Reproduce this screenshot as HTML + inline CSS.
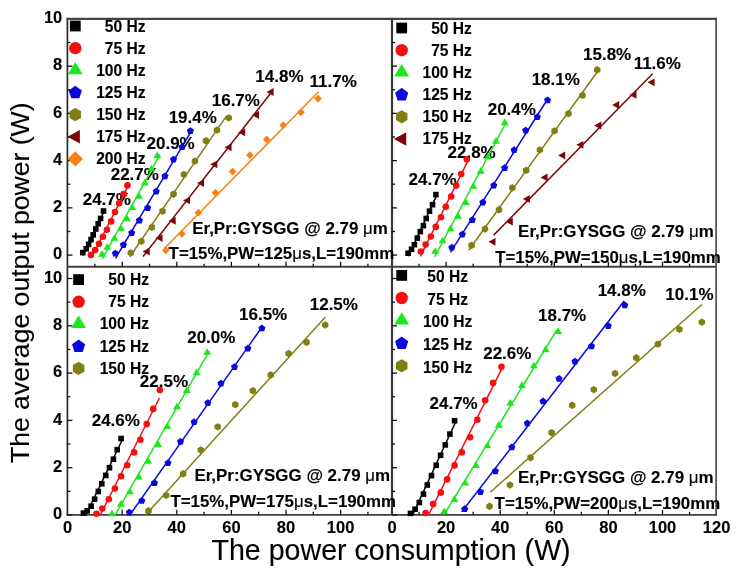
<!DOCTYPE html><html><head><meta charset="utf-8"><style>html,body{margin:0;padding:0;background:#fff;overflow:hidden}svg{display:block;will-change:transform}text{font-family:"Liberation Sans",sans-serif;stroke:#000;stroke-width:0.12px}</style></head><body>
<svg width="742" height="572" viewBox="0 0 742 572">
<rect width="742" height="572" fill="#fff"/>
<g stroke="#383838" fill="none">
<line x1="67.4" y1="17.85" x2="67.4" y2="515.85" stroke-width="1.7" stroke="#2a2a2a"/>
<line x1="716.1" y1="17.85" x2="716.1" y2="515.85" stroke-width="1.6" stroke="#444"/>
<line x1="66.60000000000001" y1="18.85" x2="717.0" y2="18.85" stroke-width="2.1" stroke="#444"/>
<line x1="66.60000000000001" y1="514.85" x2="717.0" y2="514.85" stroke-width="1.9" stroke="#404040"/>
<line x1="392.0" y1="18.85" x2="392.0" y2="514.85" stroke-width="2.2"/>
<line x1="67.4" y1="266.75" x2="716.1" y2="266.75" stroke-width="1.9" stroke="#404040"/>
</g>
<g stroke="#111" stroke-width="1.3" fill="none">
<line x1="94.90" y1="266.75" x2="94.90" y2="263.75"/>
<line x1="122.20" y1="266.75" x2="122.20" y2="261.75"/>
<line x1="149.50" y1="266.75" x2="149.50" y2="263.75"/>
<line x1="176.80" y1="266.75" x2="176.80" y2="261.75"/>
<line x1="204.10" y1="266.75" x2="204.10" y2="263.75"/>
<line x1="231.40" y1="266.75" x2="231.40" y2="261.75"/>
<line x1="258.70" y1="266.75" x2="258.70" y2="263.75"/>
<line x1="286.00" y1="266.75" x2="286.00" y2="261.75"/>
<line x1="313.30" y1="266.75" x2="313.30" y2="263.75"/>
<line x1="340.60" y1="266.75" x2="340.60" y2="261.75"/>
<line x1="367.90" y1="266.75" x2="367.90" y2="263.75"/>
<line x1="419.05" y1="266.75" x2="419.05" y2="263.75"/>
<line x1="446.10" y1="266.75" x2="446.10" y2="261.75"/>
<line x1="473.15" y1="266.75" x2="473.15" y2="263.75"/>
<line x1="500.20" y1="266.75" x2="500.20" y2="261.75"/>
<line x1="527.25" y1="266.75" x2="527.25" y2="263.75"/>
<line x1="554.30" y1="266.75" x2="554.30" y2="261.75"/>
<line x1="581.35" y1="266.75" x2="581.35" y2="263.75"/>
<line x1="608.40" y1="266.75" x2="608.40" y2="261.75"/>
<line x1="635.45" y1="266.75" x2="635.45" y2="263.75"/>
<line x1="662.50" y1="266.75" x2="662.50" y2="261.75"/>
<line x1="689.55" y1="266.75" x2="689.55" y2="263.75"/>
<line x1="94.90" y1="514.85" x2="94.90" y2="511.85"/>
<line x1="122.20" y1="514.85" x2="122.20" y2="509.85"/>
<line x1="149.50" y1="514.85" x2="149.50" y2="511.85"/>
<line x1="176.80" y1="514.85" x2="176.80" y2="509.85"/>
<line x1="204.10" y1="514.85" x2="204.10" y2="511.85"/>
<line x1="231.40" y1="514.85" x2="231.40" y2="509.85"/>
<line x1="258.70" y1="514.85" x2="258.70" y2="511.85"/>
<line x1="286.00" y1="514.85" x2="286.00" y2="509.85"/>
<line x1="313.30" y1="514.85" x2="313.30" y2="511.85"/>
<line x1="340.60" y1="514.85" x2="340.60" y2="509.85"/>
<line x1="367.90" y1="514.85" x2="367.90" y2="511.85"/>
<line x1="419.05" y1="514.85" x2="419.05" y2="511.85"/>
<line x1="446.10" y1="514.85" x2="446.10" y2="509.85"/>
<line x1="473.15" y1="514.85" x2="473.15" y2="511.85"/>
<line x1="500.20" y1="514.85" x2="500.20" y2="509.85"/>
<line x1="527.25" y1="514.85" x2="527.25" y2="511.85"/>
<line x1="554.30" y1="514.85" x2="554.30" y2="509.85"/>
<line x1="581.35" y1="514.85" x2="581.35" y2="511.85"/>
<line x1="608.40" y1="514.85" x2="608.40" y2="509.85"/>
<line x1="635.45" y1="514.85" x2="635.45" y2="511.85"/>
<line x1="662.50" y1="514.85" x2="662.50" y2="509.85"/>
<line x1="689.55" y1="514.85" x2="689.55" y2="511.85"/>
<line x1="67.4" y1="255.10" x2="72.4" y2="255.10"/>
<line x1="67.4" y1="231.48" x2="70.4" y2="231.48"/>
<line x1="67.4" y1="207.86" x2="72.4" y2="207.86"/>
<line x1="67.4" y1="184.24" x2="70.4" y2="184.24"/>
<line x1="67.4" y1="160.62" x2="72.4" y2="160.62"/>
<line x1="67.4" y1="137.00" x2="70.4" y2="137.00"/>
<line x1="67.4" y1="113.38" x2="72.4" y2="113.38"/>
<line x1="67.4" y1="89.76" x2="70.4" y2="89.76"/>
<line x1="67.4" y1="66.14" x2="72.4" y2="66.14"/>
<line x1="67.4" y1="42.52" x2="70.4" y2="42.52"/>
<line x1="392.0" y1="255.10" x2="397.0" y2="255.10"/>
<line x1="392.0" y1="231.48" x2="395.0" y2="231.48"/>
<line x1="392.0" y1="207.86" x2="397.0" y2="207.86"/>
<line x1="392.0" y1="184.24" x2="395.0" y2="184.24"/>
<line x1="392.0" y1="160.62" x2="397.0" y2="160.62"/>
<line x1="392.0" y1="137.00" x2="395.0" y2="137.00"/>
<line x1="392.0" y1="113.38" x2="397.0" y2="113.38"/>
<line x1="392.0" y1="89.76" x2="395.0" y2="89.76"/>
<line x1="392.0" y1="66.14" x2="397.0" y2="66.14"/>
<line x1="392.0" y1="42.52" x2="395.0" y2="42.52"/>
<line x1="67.4" y1="515.00" x2="72.4" y2="515.00"/>
<line x1="67.4" y1="491.35" x2="70.4" y2="491.35"/>
<line x1="67.4" y1="467.70" x2="72.4" y2="467.70"/>
<line x1="67.4" y1="444.05" x2="70.4" y2="444.05"/>
<line x1="67.4" y1="420.40" x2="72.4" y2="420.40"/>
<line x1="67.4" y1="396.75" x2="70.4" y2="396.75"/>
<line x1="67.4" y1="373.10" x2="72.4" y2="373.10"/>
<line x1="67.4" y1="349.45" x2="70.4" y2="349.45"/>
<line x1="67.4" y1="325.80" x2="72.4" y2="325.80"/>
<line x1="67.4" y1="302.15" x2="70.4" y2="302.15"/>
<line x1="67.4" y1="278.50" x2="72.4" y2="278.50"/>
<line x1="392.0" y1="515.00" x2="397.0" y2="515.00"/>
<line x1="392.0" y1="491.35" x2="395.0" y2="491.35"/>
<line x1="392.0" y1="467.70" x2="397.0" y2="467.70"/>
<line x1="392.0" y1="444.05" x2="395.0" y2="444.05"/>
<line x1="392.0" y1="420.40" x2="397.0" y2="420.40"/>
<line x1="392.0" y1="396.75" x2="395.0" y2="396.75"/>
<line x1="392.0" y1="373.10" x2="397.0" y2="373.10"/>
<line x1="392.0" y1="349.45" x2="395.0" y2="349.45"/>
<line x1="392.0" y1="325.80" x2="397.0" y2="325.80"/>
<line x1="392.0" y1="302.15" x2="395.0" y2="302.15"/>
<line x1="392.0" y1="278.50" x2="397.0" y2="278.50"/>
</g>
<rect x="69.90" y="20.60" width="10.80" height="10.80" fill="#000000"/>
<text x="145.60" y="32.00" font-size="15.6" font-weight="bold" text-anchor="end" fill="#000" >50 Hz</text>
<circle cx="75.30" cy="48.15" r="6.20" fill="#f51010"/>
<text x="145.60" y="54.00" font-size="15.6" font-weight="bold" text-anchor="end" fill="#000" >75 Hz</text>
<polygon points="75.30,61.90 82.75,74.32 67.85,74.32" fill="#1ee61e"/>
<text x="145.60" y="76.00" font-size="15.6" font-weight="bold" text-anchor="end" fill="#000" >100 Hz</text>
<polygon points="75.30,85.72 81.89,90.51 79.37,98.26 71.23,98.26 68.71,90.51" fill="#0808dc"/>
<text x="145.60" y="98.00" font-size="15.6" font-weight="bold" text-anchor="end" fill="#000" >125 Hz</text>
<polygon points="75.30,107.97 81.04,111.28 81.04,117.91 75.30,121.23 69.56,117.91 69.56,111.28" fill="#7f7f12"/>
<text x="145.60" y="120.00" font-size="15.6" font-weight="bold" text-anchor="end" fill="#000" >150 Hz</text>
<polygon points="67.50,136.75 79.85,129.93 79.85,143.57" fill="#7c0606"/>
<text x="145.60" y="142.00" font-size="15.6" font-weight="bold" text-anchor="end" fill="#000" >175 Hz</text>
<polygon points="75.30,151.23 82.97,158.90 75.30,166.56 67.63,158.90" fill="#fa8012"/>
<text x="145.60" y="164.00" font-size="15.6" font-weight="bold" text-anchor="end" fill="#000" >200 Hz</text>
<rect x="396.30" y="22.60" width="10.80" height="10.80" fill="#000000"/>
<text x="471.90" y="34.00" font-size="15.6" font-weight="bold" text-anchor="end" fill="#000" >50 Hz</text>
<circle cx="401.70" cy="50.20" r="6.20" fill="#f51010"/>
<text x="471.90" y="56.00" font-size="15.6" font-weight="bold" text-anchor="end" fill="#000" >75 Hz</text>
<polygon points="401.70,64.00 409.15,76.42 394.25,76.42" fill="#1ee61e"/>
<text x="471.90" y="78.00" font-size="15.6" font-weight="bold" text-anchor="end" fill="#000" >100 Hz</text>
<polygon points="401.70,87.87 408.29,92.66 405.77,100.41 397.63,100.41 395.11,92.66" fill="#0808dc"/>
<text x="471.90" y="100.00" font-size="15.6" font-weight="bold" text-anchor="end" fill="#000" >125 Hz</text>
<polygon points="401.70,110.17 407.44,113.48 407.44,120.11 401.70,123.43 395.96,120.11 395.96,113.48" fill="#7f7f12"/>
<text x="471.90" y="122.00" font-size="15.6" font-weight="bold" text-anchor="end" fill="#000" >150 Hz</text>
<polygon points="393.90,139.00 406.25,132.18 406.25,145.82" fill="#7c0606"/>
<text x="471.90" y="144.00" font-size="15.6" font-weight="bold" text-anchor="end" fill="#000" >175 Hz</text>
<rect x="73.20" y="274.20" width="10.80" height="10.80" fill="#000000"/>
<text x="149.10" y="285.00" font-size="15.6" font-weight="bold" text-anchor="end" fill="#000" >50 Hz</text>
<circle cx="78.60" cy="301.80" r="6.20" fill="#f51010"/>
<text x="149.10" y="307.00" font-size="15.6" font-weight="bold" text-anchor="end" fill="#000" >75 Hz</text>
<polygon points="78.60,315.60 86.05,328.02 71.15,328.02" fill="#1ee61e"/>
<text x="149.10" y="329.00" font-size="15.6" font-weight="bold" text-anchor="end" fill="#000" >100 Hz</text>
<polygon points="78.60,339.47 85.19,344.26 82.67,352.01 74.53,352.01 72.01,344.26" fill="#0808dc"/>
<text x="149.10" y="352.00" font-size="15.6" font-weight="bold" text-anchor="end" fill="#000" >125 Hz</text>
<polygon points="78.60,361.77 84.34,365.09 84.34,371.72 78.60,375.03 72.86,371.72 72.86,365.09" fill="#7f7f12"/>
<text x="149.10" y="374.00" font-size="15.6" font-weight="bold" text-anchor="end" fill="#000" >150 Hz</text>
<rect x="396.30" y="270.00" width="10.80" height="10.80" fill="#000000"/>
<text x="447.60" y="282.00" font-size="15.6" font-weight="bold" text-anchor="middle" fill="#000" >50 Hz</text>
<circle cx="401.70" cy="298.00" r="6.20" fill="#f51010"/>
<text x="447.60" y="305.00" font-size="15.6" font-weight="bold" text-anchor="middle" fill="#000" >75 Hz</text>
<polygon points="401.70,312.20 409.15,324.62 394.25,324.62" fill="#1ee61e"/>
<text x="447.60" y="327.00" font-size="15.6" font-weight="bold" text-anchor="middle" fill="#000" >100 Hz</text>
<polygon points="401.70,336.47 408.29,341.26 405.77,349.01 397.63,349.01 395.11,341.26" fill="#0808dc"/>
<text x="447.60" y="350.00" font-size="15.6" font-weight="bold" text-anchor="middle" fill="#000" >125 Hz</text>
<polygon points="401.70,359.17 407.44,362.48 407.44,369.11 401.70,372.43 395.96,369.11 395.96,362.48" fill="#7f7f12"/>
<text x="447.60" y="373.00" font-size="15.6" font-weight="bold" text-anchor="middle" fill="#000" >150 Hz</text>
<text x="82.71" y="205.00" font-size="17" font-weight="bold" text-anchor="start" fill="#000" >24.7%</text>
<text x="110.71" y="180.00" font-size="17" font-weight="bold" text-anchor="start" fill="#000" >22.7%</text>
<text x="146.51" y="149.00" font-size="17" font-weight="bold" text-anchor="start" fill="#000" >20.9%</text>
<text x="168.63" y="123.00" font-size="17" font-weight="bold" text-anchor="start" fill="#000" >19.4%</text>
<text x="211.73" y="106.00" font-size="17" font-weight="bold" text-anchor="start" fill="#000" >16.7%</text>
<text x="255.33" y="82.00" font-size="17" font-weight="bold" text-anchor="start" fill="#000" >14.8%</text>
<text x="309.53" y="87.00" font-size="17" font-weight="bold" text-anchor="start" fill="#000" >11.7%</text>
<text x="408.51" y="185.00" font-size="17" font-weight="bold" text-anchor="start" fill="#000" >24.7%</text>
<text x="447.51" y="158.00" font-size="17" font-weight="bold" text-anchor="start" fill="#000" >22.8%</text>
<text x="487.71" y="115.00" font-size="17" font-weight="bold" text-anchor="start" fill="#000" >20.4%</text>
<text x="531.63" y="85.00" font-size="17" font-weight="bold" text-anchor="start" fill="#000" >18.1%</text>
<text x="583.03" y="60.00" font-size="17" font-weight="bold" text-anchor="start" fill="#000" >15.8%</text>
<text x="633.63" y="69.00" font-size="17" font-weight="bold" text-anchor="start" fill="#000" >11.6%</text>
<text x="91.71" y="426.00" font-size="17" font-weight="bold" text-anchor="start" fill="#000" >24.6%</text>
<text x="139.81" y="387.00" font-size="17" font-weight="bold" text-anchor="start" fill="#000" >22.5%</text>
<text x="187.21" y="343.00" font-size="17" font-weight="bold" text-anchor="start" fill="#000" >20.0%</text>
<text x="239.03" y="320.00" font-size="17" font-weight="bold" text-anchor="start" fill="#000" >16.5%</text>
<text x="309.73" y="310.00" font-size="17" font-weight="bold" text-anchor="start" fill="#000" >12.5%</text>
<text x="429.51" y="409.00" font-size="17" font-weight="bold" text-anchor="start" fill="#000" >24.7%</text>
<text x="483.21" y="359.00" font-size="17" font-weight="bold" text-anchor="start" fill="#000" >22.6%</text>
<text x="538.03" y="321.00" font-size="17" font-weight="bold" text-anchor="start" fill="#000" >18.7%</text>
<text x="597.63" y="296.00" font-size="17" font-weight="bold" text-anchor="start" fill="#000" >14.8%</text>
<text x="665.33" y="300.00" font-size="17" font-weight="bold" text-anchor="start" fill="#000" >10.1%</text>
<line x1="82.72" y1="255.60" x2="104.71" y2="210.00" stroke="#000000" stroke-width="1.5"/>
<rect x="80.00" y="249.80" width="5.60" height="5.60" fill="#000000"/>
<rect x="83.40" y="246.00" width="5.60" height="5.60" fill="#000000"/>
<rect x="85.80" y="241.60" width="5.60" height="5.60" fill="#000000"/>
<rect x="88.20" y="236.80" width="5.60" height="5.60" fill="#000000"/>
<rect x="90.40" y="232.00" width="5.60" height="5.60" fill="#000000"/>
<rect x="93.00" y="226.20" width="5.60" height="5.60" fill="#000000"/>
<rect x="95.40" y="221.00" width="5.60" height="5.60" fill="#000000"/>
<rect x="97.80" y="215.70" width="5.60" height="5.60" fill="#000000"/>
<rect x="100.70" y="208.20" width="5.60" height="5.60" fill="#000000"/>
<line x1="91.34" y1="257.90" x2="128.92" y2="184.40" stroke="#f51010" stroke-width="1.5"/>
<circle cx="90.90" cy="254.90" r="3.30" fill="#f51010"/>
<circle cx="95.10" cy="250.10" r="3.30" fill="#f51010"/>
<circle cx="99.00" cy="243.80" r="3.30" fill="#f51010"/>
<circle cx="102.80" cy="236.70" r="3.30" fill="#f51010"/>
<circle cx="106.90" cy="229.80" r="3.30" fill="#f51010"/>
<circle cx="111.20" cy="221.40" r="3.30" fill="#f51010"/>
<circle cx="115.00" cy="212.00" r="3.30" fill="#f51010"/>
<circle cx="119.10" cy="203.20" r="3.30" fill="#f51010"/>
<circle cx="123.70" cy="194.00" r="3.30" fill="#f51010"/>
<circle cx="127.50" cy="185.40" r="3.30" fill="#f51010"/>
<line x1="102.34" y1="258.70" x2="160.13" y2="154.30" stroke="#1ee61e" stroke-width="1.5"/>
<polygon points="102.10,250.00 106.10,256.66 98.10,256.66" fill="#1ee61e"/>
<polygon points="107.30,243.20 111.30,249.86 103.30,249.86" fill="#1ee61e"/>
<polygon points="114.40,234.20 118.40,240.86 110.40,240.86" fill="#1ee61e"/>
<polygon points="120.90,224.40 124.90,231.06 116.90,231.06" fill="#1ee61e"/>
<polygon points="126.90,214.60 130.90,221.26 122.90,221.26" fill="#1ee61e"/>
<polygon points="132.30,203.40 136.30,210.06 128.30,210.06" fill="#1ee61e"/>
<polygon points="138.90,192.10 142.90,198.76 134.90,198.76" fill="#1ee61e"/>
<polygon points="144.80,178.80 148.80,185.46 140.80,185.46" fill="#1ee61e"/>
<polygon points="151.40,164.70 155.40,171.36 147.40,171.36" fill="#1ee61e"/>
<polygon points="157.30,151.60 161.30,158.26 153.30,158.26" fill="#1ee61e"/>
<line x1="115.48" y1="258.30" x2="192.19" y2="129.70" stroke="#0808dc" stroke-width="1.5"/>
<polygon points="115.40,249.77 118.95,252.35 117.59,256.52 113.21,256.52 111.85,252.35" fill="#0808dc"/>
<polygon points="123.40,241.17 126.95,243.75 125.59,247.92 121.21,247.92 119.85,243.75" fill="#0808dc"/>
<polygon points="131.70,229.17 135.25,231.75 133.89,235.92 129.51,235.92 128.15,231.75" fill="#0808dc"/>
<polygon points="139.40,216.67 142.95,219.25 141.59,223.42 137.21,223.42 135.85,219.25" fill="#0808dc"/>
<polygon points="147.70,204.17 151.25,206.75 149.89,210.92 145.51,210.92 144.15,206.75" fill="#0808dc"/>
<polygon points="156.20,187.77 159.75,190.35 158.39,194.52 154.01,194.52 152.65,190.35" fill="#0808dc"/>
<polygon points="165.00,172.47 168.55,175.05 167.19,179.22 162.81,179.22 161.45,175.05" fill="#0808dc"/>
<polygon points="173.50,155.67 177.05,158.25 175.69,162.42 171.31,162.42 169.95,158.25" fill="#0808dc"/>
<polygon points="182.10,143.37 185.65,145.95 184.29,150.12 179.91,150.12 178.55,145.95" fill="#0808dc"/>
<polygon points="190.40,127.17 193.95,129.75 192.59,133.92 188.21,133.92 186.85,129.75" fill="#0808dc"/>
<line x1="129.77" y1="256.90" x2="225.90" y2="116.90" stroke="#7f7f12" stroke-width="1.5"/>
<polygon points="130.80,249.18 134.02,251.04 134.02,254.76 130.80,256.62 127.58,254.76 127.58,251.04" fill="#7f7f12"/>
<polygon points="141.30,237.58 144.52,239.44 144.52,243.16 141.30,245.02 138.08,243.16 138.08,239.44" fill="#7f7f12"/>
<polygon points="151.90,223.58 155.12,225.44 155.12,229.16 151.90,231.02 148.68,229.16 148.68,225.44" fill="#7f7f12"/>
<polygon points="162.50,207.48 165.72,209.34 165.72,213.06 162.50,214.92 159.28,213.06 159.28,209.34" fill="#7f7f12"/>
<polygon points="173.50,190.48 176.72,192.34 176.72,196.06 173.50,197.92 170.28,196.06 170.28,192.34" fill="#7f7f12"/>
<polygon points="183.90,170.78 187.12,172.64 187.12,176.36 183.90,178.22 180.68,176.36 180.68,172.64" fill="#7f7f12"/>
<polygon points="194.90,157.38 198.12,159.24 198.12,162.96 194.90,164.82 191.68,162.96 191.68,159.24" fill="#7f7f12"/>
<polygon points="206.00,137.08 209.22,138.94 209.22,142.66 206.00,144.52 202.78,142.66 202.78,138.94" fill="#7f7f12"/>
<polygon points="217.00,126.38 220.22,128.24 220.22,131.96 217.00,133.82 213.78,131.96 213.78,128.24" fill="#7f7f12"/>
<polygon points="228.70,114.18 231.92,116.04 231.92,119.76 228.70,121.62 225.48,119.76 225.48,116.04" fill="#7f7f12"/>
<line x1="143.00" y1="256.50" x2="273.00" y2="90.30" stroke="#7c0606" stroke-width="1.5"/>
<polygon points="142.66,251.50 149.69,247.62 149.69,255.38" fill="#7c0606"/>
<polygon points="155.56,238.10 162.59,234.22 162.59,241.98" fill="#7c0606"/>
<polygon points="168.66,220.80 175.69,216.92 175.69,224.69" fill="#7c0606"/>
<polygon points="183.06,200.40 190.09,196.52 190.09,204.28" fill="#7c0606"/>
<polygon points="197.06,183.10 204.09,179.22 204.09,186.98" fill="#7c0606"/>
<polygon points="210.26,164.30 217.29,160.42 217.29,168.19" fill="#7c0606"/>
<polygon points="224.56,147.30 231.59,143.42 231.59,151.19" fill="#7c0606"/>
<polygon points="238.16,132.40 245.19,128.52 245.19,136.28" fill="#7c0606"/>
<polygon points="251.96,115.00 258.99,111.11 258.99,118.89" fill="#7c0606"/>
<polygon points="266.56,92.00 273.59,88.11 273.59,95.89" fill="#7c0606"/>
<line x1="164.30" y1="248.50" x2="318.60" y2="91.80" stroke="#fa8012" stroke-width="1.5"/>
<polygon points="165.80,246.47 169.63,250.30 165.80,254.13 161.97,250.30" fill="#fa8012"/>
<polygon points="181.90,229.97 185.73,233.80 181.90,237.63 178.07,233.80" fill="#fa8012"/>
<polygon points="198.40,208.87 202.23,212.70 198.40,216.53 194.57,212.70" fill="#fa8012"/>
<polygon points="215.50,188.87 219.33,192.70 215.50,196.53 211.67,192.70" fill="#fa8012"/>
<polygon points="232.50,167.67 236.33,171.50 232.50,175.33 228.67,171.50" fill="#fa8012"/>
<polygon points="249.90,151.37 253.73,155.20 249.90,159.03 246.07,155.20" fill="#fa8012"/>
<polygon points="266.70,135.57 270.53,139.40 266.70,143.23 262.87,139.40" fill="#fa8012"/>
<polygon points="283.20,121.37 287.03,125.20 283.20,129.03 279.37,125.20" fill="#fa8012"/>
<polygon points="300.90,108.47 304.73,112.30 300.90,116.13 297.07,112.30" fill="#fa8012"/>
<polygon points="318.00,94.77 321.83,98.60 318.00,102.43 314.17,98.60" fill="#fa8012"/>
<line x1="408.40" y1="256.20" x2="437.52" y2="193.60" stroke="#000000" stroke-width="1.5"/>
<rect x="405.30" y="250.40" width="5.60" height="5.60" fill="#000000"/>
<rect x="408.70" y="246.50" width="5.60" height="5.60" fill="#000000"/>
<rect x="411.60" y="241.90" width="5.60" height="5.60" fill="#000000"/>
<rect x="414.50" y="235.30" width="5.60" height="5.60" fill="#000000"/>
<rect x="417.50" y="228.80" width="5.60" height="5.60" fill="#000000"/>
<rect x="420.60" y="222.90" width="5.60" height="5.60" fill="#000000"/>
<rect x="423.40" y="215.70" width="5.60" height="5.60" fill="#000000"/>
<rect x="426.70" y="208.40" width="5.60" height="5.60" fill="#000000"/>
<rect x="429.70" y="201.90" width="5.60" height="5.60" fill="#000000"/>
<rect x="433.10" y="191.80" width="5.60" height="5.60" fill="#000000"/>
<line x1="420.34" y1="256.50" x2="469.24" y2="158.20" stroke="#f51010" stroke-width="1.5"/>
<circle cx="420.80" cy="251.50" r="3.30" fill="#f51010"/>
<circle cx="425.60" cy="244.60" r="3.30" fill="#f51010"/>
<circle cx="430.80" cy="236.50" r="3.30" fill="#f51010"/>
<circle cx="435.80" cy="226.90" r="3.30" fill="#f51010"/>
<circle cx="441.00" cy="217.30" r="3.30" fill="#f51010"/>
<circle cx="445.80" cy="206.70" r="3.30" fill="#f51010"/>
<circle cx="451.20" cy="196.50" r="3.30" fill="#f51010"/>
<circle cx="456.30" cy="185.60" r="3.30" fill="#f51010"/>
<circle cx="461.20" cy="174.00" r="3.30" fill="#f51010"/>
<circle cx="466.80" cy="159.20" r="3.30" fill="#f51010"/>
<line x1="434.66" y1="256.90" x2="506.74" y2="121.30" stroke="#1ee61e" stroke-width="1.5"/>
<polygon points="435.20,247.20 439.20,253.86 431.20,253.86" fill="#1ee61e"/>
<polygon points="442.60,236.70 446.60,243.36 438.60,243.36" fill="#1ee61e"/>
<polygon points="450.60,224.50 454.60,231.16 446.60,231.16" fill="#1ee61e"/>
<polygon points="458.00,212.20 462.00,218.86 454.00,218.86" fill="#1ee61e"/>
<polygon points="465.80,198.30 469.80,204.96 461.80,204.96" fill="#1ee61e"/>
<polygon points="473.30,182.20 477.30,188.86 469.30,188.86" fill="#1ee61e"/>
<polygon points="480.70,167.10 484.70,173.76 476.70,173.76" fill="#1ee61e"/>
<polygon points="488.10,152.70 492.10,159.36 484.10,159.36" fill="#1ee61e"/>
<polygon points="496.00,137.00 500.00,143.66 492.00,143.66" fill="#1ee61e"/>
<polygon points="504.70,118.60 508.70,125.26 500.70,125.26" fill="#1ee61e"/>
<line x1="450.42" y1="252.40" x2="547.63" y2="99.00" stroke="#0808dc" stroke-width="1.5"/>
<polygon points="451.80,243.87 455.35,246.45 453.99,250.62 449.61,250.62 448.25,246.45" fill="#0808dc"/>
<polygon points="462.30,230.77 465.85,233.35 464.49,237.52 460.11,237.52 458.75,233.35" fill="#0808dc"/>
<polygon points="472.30,216.27 475.85,218.85 474.49,223.02 470.11,223.02 468.75,218.85" fill="#0808dc"/>
<polygon points="482.80,198.77 486.35,201.35 484.99,205.52 480.61,205.52 479.25,201.35" fill="#0808dc"/>
<polygon points="493.80,181.77 497.35,184.35 495.99,188.52 491.61,188.52 490.25,184.35" fill="#0808dc"/>
<polygon points="504.60,164.17 508.15,166.75 506.79,170.92 502.41,170.92 501.05,166.75" fill="#0808dc"/>
<polygon points="514.10,146.37 517.65,148.95 516.29,153.12 511.91,153.12 510.55,148.95" fill="#0808dc"/>
<polygon points="525.70,126.67 529.25,129.25 527.89,133.42 523.51,133.42 522.15,129.25" fill="#0808dc"/>
<polygon points="537.30,113.27 540.85,115.85 539.49,120.02 535.11,120.02 533.75,115.85" fill="#0808dc"/>
<polygon points="547.60,96.47 551.15,99.05 549.79,103.22 545.41,103.22 544.05,99.05" fill="#0808dc"/>
<line x1="468.70" y1="250.30" x2="599.57" y2="68.80" stroke="#7f7f12" stroke-width="1.5"/>
<polygon points="471.60,241.58 474.82,243.44 474.82,247.16 471.60,249.02 468.38,247.16 468.38,243.44" fill="#7f7f12"/>
<polygon points="485.00,225.28 488.22,227.14 488.22,230.86 485.00,232.72 481.78,230.86 481.78,227.14" fill="#7f7f12"/>
<polygon points="499.00,206.08 502.22,207.94 502.22,211.66 499.00,213.52 495.78,211.66 495.78,207.94" fill="#7f7f12"/>
<polygon points="512.40,184.08 515.62,185.94 515.62,189.66 512.40,191.52 509.18,189.66 509.18,185.94" fill="#7f7f12"/>
<polygon points="526.20,166.68 529.42,168.54 529.42,172.26 526.20,174.12 522.98,172.26 522.98,168.54" fill="#7f7f12"/>
<polygon points="539.90,146.18 543.12,148.04 543.12,151.76 539.90,153.62 536.68,151.76 536.68,148.04" fill="#7f7f12"/>
<polygon points="554.50,127.18 557.72,129.04 557.72,132.76 554.50,134.62 551.28,132.76 551.28,129.04" fill="#7f7f12"/>
<polygon points="568.50,109.88 571.72,111.74 571.72,115.46 568.50,117.32 565.28,115.46 565.28,111.74" fill="#7f7f12"/>
<polygon points="582.50,91.58 585.72,93.44 585.72,97.16 582.50,99.02 579.28,97.16 579.28,93.44" fill="#7f7f12"/>
<polygon points="597.20,66.08 600.42,67.94 600.42,71.66 597.20,73.52 593.98,71.66 593.98,67.94" fill="#7f7f12"/>
<line x1="493.70" y1="235.10" x2="652.60" y2="73.70" stroke="#7c0606" stroke-width="1.5"/>
<polygon points="488.46,241.80 495.49,237.92 495.49,245.69" fill="#7c0606"/>
<polygon points="505.76,221.70 512.79,217.81 512.79,225.58" fill="#7c0606"/>
<polygon points="522.86,199.00 529.89,195.12 529.89,202.88" fill="#7c0606"/>
<polygon points="540.56,177.40 547.59,173.52 547.59,181.28" fill="#7c0606"/>
<polygon points="558.16,155.40 565.19,151.52 565.19,159.28" fill="#7c0606"/>
<polygon points="576.36,144.80 583.39,140.92 583.39,148.69" fill="#7c0606"/>
<polygon points="594.26,125.50 601.29,121.61 601.29,129.38" fill="#7c0606"/>
<polygon points="612.16,105.00 619.19,101.11 619.19,108.89" fill="#7c0606"/>
<polygon points="629.46,94.90 636.49,91.02 636.49,98.79" fill="#7c0606"/>
<polygon points="647.56,82.30 654.59,78.41 654.59,86.19" fill="#7c0606"/>
<line x1="85.78" y1="515.00" x2="123.43" y2="437.50" stroke="#000000" stroke-width="1.5"/>
<rect x="80.60" y="510.30" width="5.60" height="5.60" fill="#000000"/>
<rect x="84.40" y="508.00" width="5.60" height="5.60" fill="#000000"/>
<rect x="88.30" y="503.40" width="5.60" height="5.60" fill="#000000"/>
<rect x="91.80" y="496.40" width="5.60" height="5.60" fill="#000000"/>
<rect x="95.50" y="488.70" width="5.60" height="5.60" fill="#000000"/>
<rect x="99.00" y="481.00" width="5.60" height="5.60" fill="#000000"/>
<rect x="102.90" y="472.60" width="5.60" height="5.60" fill="#000000"/>
<rect x="106.70" y="464.90" width="5.60" height="5.60" fill="#000000"/>
<rect x="110.60" y="456.40" width="5.60" height="5.60" fill="#000000"/>
<rect x="114.40" y="446.90" width="5.60" height="5.60" fill="#000000"/>
<rect x="118.30" y="435.70" width="5.60" height="5.60" fill="#000000"/>
<line x1="100.24" y1="515.00" x2="159.39" y2="398.00" stroke="#f51010" stroke-width="1.5"/>
<circle cx="96.50" cy="513.80" r="3.30" fill="#f51010"/>
<circle cx="102.30" cy="508.50" r="3.30" fill="#f51010"/>
<circle cx="108.80" cy="499.20" r="3.30" fill="#f51010"/>
<circle cx="114.90" cy="488.50" r="3.30" fill="#f51010"/>
<circle cx="121.10" cy="476.30" r="3.30" fill="#f51010"/>
<circle cx="127.20" cy="465.20" r="3.30" fill="#f51010"/>
<circle cx="134.10" cy="452.40" r="3.30" fill="#f51010"/>
<circle cx="140.40" cy="439.80" r="3.30" fill="#f51010"/>
<circle cx="146.70" cy="424.10" r="3.30" fill="#f51010"/>
<circle cx="153.20" cy="408.90" r="3.30" fill="#f51010"/>
<circle cx="159.90" cy="390.00" r="3.30" fill="#f51010"/>
<line x1="115.09" y1="515.00" x2="209.35" y2="350.90" stroke="#1ee61e" stroke-width="1.5"/>
<polygon points="111.90,509.50 115.90,516.16 107.90,516.16" fill="#1ee61e"/>
<polygon points="120.90,500.10 124.90,506.76 116.90,506.76" fill="#1ee61e"/>
<polygon points="129.90,487.50 133.90,494.16 125.90,494.16" fill="#1ee61e"/>
<polygon points="138.70,472.80 142.70,479.46 134.70,479.46" fill="#1ee61e"/>
<polygon points="148.10,457.10 152.10,463.76 144.10,463.76" fill="#1ee61e"/>
<polygon points="158.00,440.30 162.00,446.96 154.00,446.96" fill="#1ee61e"/>
<polygon points="167.20,422.30 171.20,428.96 163.20,428.96" fill="#1ee61e"/>
<polygon points="177.00,402.70 181.00,409.36 173.00,409.36" fill="#1ee61e"/>
<polygon points="186.80,386.30 190.80,392.96 182.80,392.96" fill="#1ee61e"/>
<polygon points="196.60,368.50 200.60,375.16 192.60,375.16" fill="#1ee61e"/>
<polygon points="207.10,348.20 211.10,354.86 203.10,354.86" fill="#1ee61e"/>
<line x1="129.88" y1="515.00" x2="261.89" y2="327.10" stroke="#0808dc" stroke-width="1.5"/>
<polygon points="129.30,508.67 132.85,511.25 131.49,515.42 127.11,515.42 125.75,511.25" fill="#0808dc"/>
<polygon points="141.80,497.07 145.35,499.65 143.99,503.82 139.61,503.82 138.25,499.65" fill="#0808dc"/>
<polygon points="154.40,479.27 157.95,481.85 156.59,486.02 152.21,486.02 150.85,481.85" fill="#0808dc"/>
<polygon points="168.00,459.37 171.55,461.95 170.19,466.12 165.81,466.12 164.45,461.95" fill="#0808dc"/>
<polygon points="180.50,437.97 184.05,440.55 182.69,444.72 178.31,444.72 176.95,440.55" fill="#0808dc"/>
<polygon points="194.10,418.37 197.65,420.95 196.29,425.12 191.91,425.12 190.55,420.95" fill="#0808dc"/>
<polygon points="207.80,399.27 211.35,401.85 209.99,406.02 205.61,406.02 204.25,401.85" fill="#0808dc"/>
<polygon points="221.00,379.67 224.55,382.25 223.19,386.42 218.81,386.42 217.45,382.25" fill="#0808dc"/>
<polygon points="234.50,363.17 238.05,365.75 236.69,369.92 232.31,369.92 230.95,365.75" fill="#0808dc"/>
<polygon points="247.80,344.67 251.35,347.25 249.99,351.42 245.61,351.42 244.25,347.25" fill="#0808dc"/>
<polygon points="261.90,324.57 265.45,327.15 264.09,331.32 259.71,331.32 258.35,327.15" fill="#0808dc"/>
<line x1="145.50" y1="515.00" x2="325.20" y2="317.30" stroke="#7f7f12" stroke-width="1.5"/>
<polygon points="148.50,507.08 151.72,508.94 151.72,512.66 148.50,514.52 145.28,512.66 145.28,508.94" fill="#7f7f12"/>
<polygon points="166.20,491.68 169.42,493.54 169.42,497.26 166.20,499.12 162.98,497.26 162.98,493.54" fill="#7f7f12"/>
<polygon points="183.10,470.08 186.32,471.94 186.32,475.66 183.10,477.52 179.88,475.66 179.88,471.94" fill="#7f7f12"/>
<polygon points="200.80,446.28 204.02,448.14 204.02,451.86 200.80,453.72 197.58,451.86 197.58,448.14" fill="#7f7f12"/>
<polygon points="217.70,423.18 220.92,425.04 220.92,428.76 217.70,430.62 214.48,428.76 214.48,425.04" fill="#7f7f12"/>
<polygon points="235.30,400.88 238.52,402.74 238.52,406.46 235.30,408.32 232.08,406.46 232.08,402.74" fill="#7f7f12"/>
<polygon points="252.90,386.98 256.12,388.84 256.12,392.56 252.90,394.42 249.68,392.56 249.68,388.84" fill="#7f7f12"/>
<polygon points="270.80,371.28 274.02,373.14 274.02,376.86 270.80,378.72 267.58,376.86 267.58,373.14" fill="#7f7f12"/>
<polygon points="288.60,349.78 291.82,351.64 291.82,355.36 288.60,357.22 285.38,355.36 285.38,351.64" fill="#7f7f12"/>
<polygon points="306.50,338.58 309.72,340.44 309.72,344.16 306.50,346.02 303.28,344.16 303.28,340.44" fill="#7f7f12"/>
<polygon points="325.20,321.28 328.42,323.14 328.42,326.86 325.20,328.72 321.98,326.86 321.98,323.14" fill="#7f7f12"/>
<line x1="412.67" y1="515.00" x2="456.62" y2="419.70" stroke="#000000" stroke-width="1.5"/>
<rect x="407.70" y="510.60" width="5.60" height="5.60" fill="#000000"/>
<rect x="412.30" y="506.40" width="5.60" height="5.60" fill="#000000"/>
<rect x="416.50" y="499.70" width="5.60" height="5.60" fill="#000000"/>
<rect x="420.70" y="491.30" width="5.60" height="5.60" fill="#000000"/>
<rect x="424.50" y="482.20" width="5.60" height="5.60" fill="#000000"/>
<rect x="428.70" y="472.80" width="5.60" height="5.60" fill="#000000"/>
<rect x="433.40" y="462.50" width="5.60" height="5.60" fill="#000000"/>
<rect x="437.80" y="452.50" width="5.60" height="5.60" fill="#000000"/>
<rect x="442.50" y="442.10" width="5.60" height="5.60" fill="#000000"/>
<rect x="447.10" y="431.30" width="5.60" height="5.60" fill="#000000"/>
<rect x="451.80" y="417.90" width="5.60" height="5.60" fill="#000000"/>
<line x1="428.52" y1="515.00" x2="503.34" y2="365.70" stroke="#f51010" stroke-width="1.5"/>
<circle cx="425.60" cy="513.00" r="3.30" fill="#f51010"/>
<circle cx="433.20" cy="503.90" r="3.30" fill="#f51010"/>
<circle cx="440.80" cy="492.60" r="3.30" fill="#f51010"/>
<circle cx="447.20" cy="479.40" r="3.30" fill="#f51010"/>
<circle cx="454.60" cy="465.40" r="3.30" fill="#f51010"/>
<circle cx="461.80" cy="452.40" r="3.30" fill="#f51010"/>
<circle cx="470.10" cy="437.20" r="3.30" fill="#f51010"/>
<circle cx="477.30" cy="419.80" r="3.30" fill="#f51010"/>
<circle cx="485.10" cy="400.20" r="3.30" fill="#f51010"/>
<circle cx="493.10" cy="382.90" r="3.30" fill="#f51010"/>
<circle cx="501.50" cy="366.70" r="3.30" fill="#f51010"/>
<line x1="444.37" y1="514.30" x2="556.84" y2="330.00" stroke="#1ee61e" stroke-width="1.5"/>
<polygon points="444.10,507.60 448.10,514.26 440.10,514.26" fill="#1ee61e"/>
<polygon points="454.40,495.30 458.40,501.96 450.40,501.96" fill="#1ee61e"/>
<polygon points="465.20,478.80 469.20,485.46 461.20,485.46" fill="#1ee61e"/>
<polygon points="476.10,461.30 480.10,467.96 472.10,467.96" fill="#1ee61e"/>
<polygon points="487.40,441.70 491.40,448.36 483.40,448.36" fill="#1ee61e"/>
<polygon points="498.80,421.00 502.80,427.66 494.80,427.66" fill="#1ee61e"/>
<polygon points="510.30,399.10 514.30,405.76 506.30,405.76" fill="#1ee61e"/>
<polygon points="521.90,381.30 525.90,387.96 517.90,387.96" fill="#1ee61e"/>
<polygon points="533.80,361.70 537.80,368.36 529.80,368.36" fill="#1ee61e"/>
<polygon points="545.60,345.60 549.60,352.26 541.60,352.26" fill="#1ee61e"/>
<polygon points="558.20,327.30 562.20,333.96 554.20,333.96" fill="#1ee61e"/>
<line x1="461.73" y1="511.90" x2="624.19" y2="301.00" stroke="#0808dc" stroke-width="1.5"/>
<polygon points="464.70,505.37 468.25,507.95 466.89,512.12 462.51,512.12 461.15,507.95" fill="#0808dc"/>
<polygon points="480.50,488.27 484.05,490.85 482.69,495.02 478.31,495.02 476.95,490.85" fill="#0808dc"/>
<polygon points="495.40,467.47 498.95,470.05 497.59,474.22 493.21,474.22 491.85,470.05" fill="#0808dc"/>
<polygon points="511.80,443.57 515.35,446.15 513.99,450.32 509.61,450.32 508.25,446.15" fill="#0808dc"/>
<polygon points="527.30,419.57 530.85,422.15 529.49,426.32 525.11,426.32 523.75,422.15" fill="#0808dc"/>
<polygon points="543.10,397.57 546.65,400.15 545.29,404.32 540.91,404.32 539.55,400.15" fill="#0808dc"/>
<polygon points="559.00,374.97 562.55,377.55 561.19,381.72 556.81,381.72 555.45,377.55" fill="#0808dc"/>
<polygon points="575.00,357.77 578.55,360.35 577.19,364.52 572.81,364.52 571.45,360.35" fill="#0808dc"/>
<polygon points="591.50,342.47 595.05,345.05 593.69,349.22 589.31,349.22 587.95,345.05" fill="#0808dc"/>
<polygon points="608.20,322.27 611.75,324.85 610.39,329.02 606.01,329.02 604.65,324.85" fill="#0808dc"/>
<polygon points="624.80,301.47 628.35,304.05 626.99,308.22 622.61,308.22 621.25,304.05" fill="#0808dc"/>
<line x1="490.20" y1="492.30" x2="701.90" y2="304.50" stroke="#7f7f12" stroke-width="1.5"/>
<polygon points="489.50,502.58 492.72,504.44 492.72,508.16 489.50,510.02 486.28,508.16 486.28,504.44" fill="#7f7f12"/>
<polygon points="510.00,481.28 513.22,483.14 513.22,486.86 510.00,488.72 506.78,486.86 506.78,483.14" fill="#7f7f12"/>
<polygon points="530.50,453.98 533.72,455.84 533.72,459.56 530.50,461.42 527.28,459.56 527.28,455.84" fill="#7f7f12"/>
<polygon points="551.60,428.98 554.82,430.84 554.82,434.56 551.60,436.42 548.38,434.56 548.38,430.84" fill="#7f7f12"/>
<polygon points="572.20,401.58 575.42,403.44 575.42,407.16 572.20,409.02 568.98,407.16 568.98,403.44" fill="#7f7f12"/>
<polygon points="593.80,385.88 597.02,387.74 597.02,391.46 593.80,393.32 590.58,391.46 590.58,387.74" fill="#7f7f12"/>
<polygon points="615.00,369.78 618.22,371.64 618.22,375.36 615.00,377.22 611.78,375.36 611.78,371.64" fill="#7f7f12"/>
<polygon points="636.30,354.08 639.52,355.94 639.52,359.66 636.30,361.52 633.08,359.66 633.08,355.94" fill="#7f7f12"/>
<polygon points="657.90,340.38 661.12,342.24 661.12,345.96 657.90,347.82 654.68,345.96 654.68,342.24" fill="#7f7f12"/>
<polygon points="679.40,325.68 682.62,327.54 682.62,331.26 679.40,333.12 676.18,331.26 676.18,327.54" fill="#7f7f12"/>
<polygon points="701.90,318.38 705.12,320.24 705.12,323.96 701.90,325.82 698.68,323.96 698.68,320.24" fill="#7f7f12"/>
<text x="192.20" y="234.00" font-size="16.95" font-weight="bold" text-anchor="start" fill="#000" >Er,Pr:GYSGG @ 2.79 <tspan font-weight="normal">μ</tspan>m</text>
<text x="168.60" y="259.00" font-size="16.85" font-weight="bold" text-anchor="start" fill="#000" >T=15%,PW=125<tspan font-weight="normal">μ</tspan>s,L=190mm</text>
<text x="518.10" y="237.00" font-size="16.95" font-weight="bold" text-anchor="start" fill="#000" >Er,Pr:GYSGG @ 2.79 <tspan font-weight="normal">μ</tspan>m</text>
<text x="495.20" y="263.00" font-size="16.85" font-weight="bold" text-anchor="start" fill="#000" >T=15%,PW=150<tspan font-weight="normal">μ</tspan>s,L=190mm</text>
<text x="194.40" y="481.00" font-size="16.95" font-weight="bold" text-anchor="start" fill="#000" >Er,Pr:GYSGG @ 2.79 <tspan font-weight="normal">μ</tspan>m</text>
<text x="170.40" y="507.00" font-size="16.85" font-weight="bold" text-anchor="start" fill="#000" >T=15%,PW=175<tspan font-weight="normal">μ</tspan>s,L=190mm</text>
<text x="517.90" y="483.00" font-size="16.95" font-weight="bold" text-anchor="start" fill="#000" >Er,Pr:GYSGG @ 2.79 <tspan font-weight="normal">μ</tspan>m</text>
<text x="494.60" y="509.00" font-size="16.85" font-weight="bold" text-anchor="start" fill="#000" >T=15%,PW=200<tspan font-weight="normal">μ</tspan>s,L=190mm</text>
<text x="62.30" y="259.00" font-size="16.5" font-weight="bold" text-anchor="end" fill="#000" >0</text>
<text x="62.30" y="519.00" font-size="16.5" font-weight="bold" text-anchor="end" fill="#000" >0</text>
<text x="62.30" y="212.00" font-size="16.5" font-weight="bold" text-anchor="end" fill="#000" >2</text>
<text x="62.30" y="472.00" font-size="16.5" font-weight="bold" text-anchor="end" fill="#000" >2</text>
<text x="62.30" y="165.00" font-size="16.5" font-weight="bold" text-anchor="end" fill="#000" >4</text>
<text x="62.30" y="425.00" font-size="16.5" font-weight="bold" text-anchor="end" fill="#000" >4</text>
<text x="62.30" y="118.00" font-size="16.5" font-weight="bold" text-anchor="end" fill="#000" >6</text>
<text x="62.30" y="377.00" font-size="16.5" font-weight="bold" text-anchor="end" fill="#000" >6</text>
<text x="62.30" y="70.00" font-size="16.5" font-weight="bold" text-anchor="end" fill="#000" >8</text>
<text x="62.30" y="330.00" font-size="16.5" font-weight="bold" text-anchor="end" fill="#000" >8</text>
<text x="62.30" y="23.00" font-size="16.5" font-weight="bold" text-anchor="end" fill="#000" >10</text>
<text x="62.30" y="283.00" font-size="16.5" font-weight="bold" text-anchor="end" fill="#000" >10</text>
<text x="67.60" y="533.00" font-size="16.5" font-weight="bold" text-anchor="middle" fill="#000" >0</text>
<text x="122.20" y="533.00" font-size="16.5" font-weight="bold" text-anchor="middle" fill="#000" >20</text>
<text x="176.80" y="533.00" font-size="16.5" font-weight="bold" text-anchor="middle" fill="#000" >40</text>
<text x="231.40" y="533.00" font-size="16.5" font-weight="bold" text-anchor="middle" fill="#000" >60</text>
<text x="286.00" y="533.00" font-size="16.5" font-weight="bold" text-anchor="middle" fill="#000" >80</text>
<text x="340.60" y="533.00" font-size="16.5" font-weight="bold" text-anchor="middle" fill="#000" >100</text>
<text x="392.00" y="533.00" font-size="16.5" font-weight="bold" text-anchor="middle" fill="#000" >0</text>
<text x="446.10" y="533.00" font-size="16.5" font-weight="bold" text-anchor="middle" fill="#000" >20</text>
<text x="500.20" y="533.00" font-size="16.5" font-weight="bold" text-anchor="middle" fill="#000" >40</text>
<text x="554.30" y="533.00" font-size="16.5" font-weight="bold" text-anchor="middle" fill="#000" >60</text>
<text x="608.40" y="533.00" font-size="16.5" font-weight="bold" text-anchor="middle" fill="#000" >80</text>
<text x="662.50" y="533.00" font-size="16.5" font-weight="bold" text-anchor="middle" fill="#000" >100</text>
<text x="716.60" y="533.00" font-size="16.5" font-weight="bold" text-anchor="middle" fill="#000" >120</text>
<text x="211.50" y="560.00" font-size="28.6" font-weight="normal" text-anchor="start" fill="#000" >The power consumption (W)</text>
<text transform="translate(28.7,463.1) rotate(-90)" font-size="26.6" font-weight="normal" fill="#000">The average output power (W)</text>
</svg></body></html>
